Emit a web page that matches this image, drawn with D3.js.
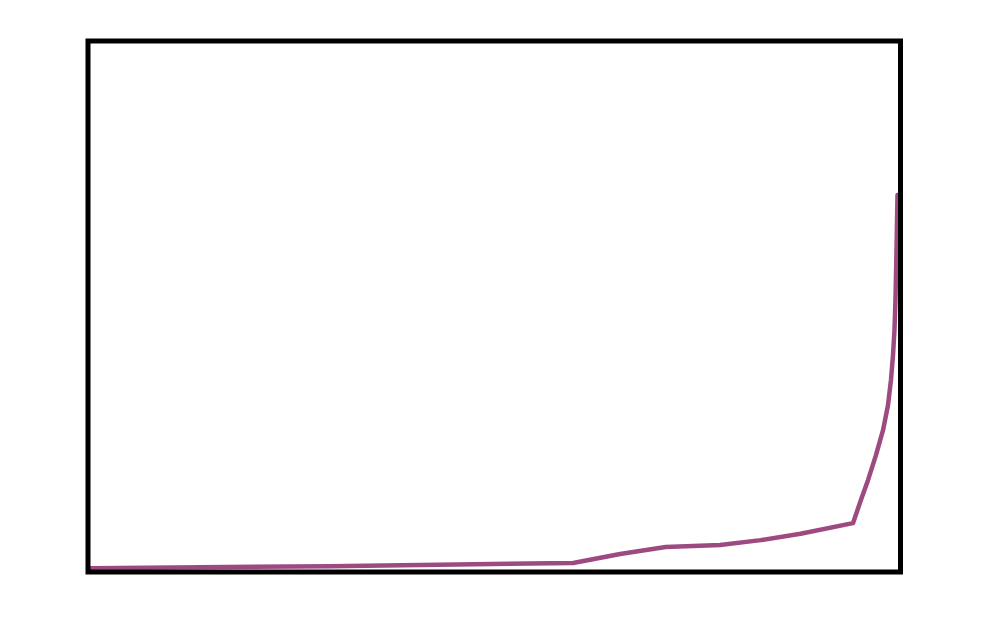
<!DOCTYPE html>
<html>
<head>
<meta charset="utf-8">
<script src="https://cdn.jsdelivr.net/npm/d3@7"></script>
<style>
  body { margin: 0; background: #fff; }
</style>
</head>
<body>
<svg width="997" height="630"></svg>
<script>
// valori (unita arbitrarie 0-100)
var xVals = [0.3, 29.8, 59.7, 65.5, 71.1, 77.8, 82.8, 87.7, 94.15, 95.14, 96.0, 96.98, 97.85, 98.46, 98.83, 99.08, 99.26, 99.38, 99.51, 99.63];
var yVals = [0.7, 1.1, 1.7, 3.4, 4.7, 5.1, 6.0, 7.2, 9.2, 13.6, 17.3, 22.0, 26.7, 31.4, 36.2, 40.9, 45.6, 51.2, 60.6, 71.0];

var svg = d3.select("svg"),
    margin = {left: 88, right: 96.5, top: 41, bottom: 58},
    width = +svg.attr("width"),
    height = +svg.attr("height");

var x = d3.scaleLinear().domain([0, 100]).range([margin.left, width - margin.right]);
var y = d3.scaleLinear().domain([0, 100]).range([height - margin.bottom, margin.top]);

var punti = xVals.map(function(d, i) { return [d, yVals[i]]; });

var linea = d3.line()
  .x(function(d) { return x(d[0]); })
  .y(function(d) { return y(d[1]); })
  .curve(d3.curveLinear);

svg.append("path")
  .datum(punti)
  .attr("d", linea)
  .attr("fill", "none")
  .attr("stroke", "#9d4a80")
  .attr("stroke-width", 4.5)
  .attr("stroke-linejoin", "round")
  .attr("stroke-linecap", "round");

// cornice
svg.append("rect")
  .attr("x", x(0))
  .attr("y", y(100))
  .attr("width", x(100) - x(0))
  .attr("height", y(0) - y(100))
  .attr("fill", "none")
  .attr("stroke", "#000")
  .attr("stroke-width", 5);
</script>
</body>
</html>
